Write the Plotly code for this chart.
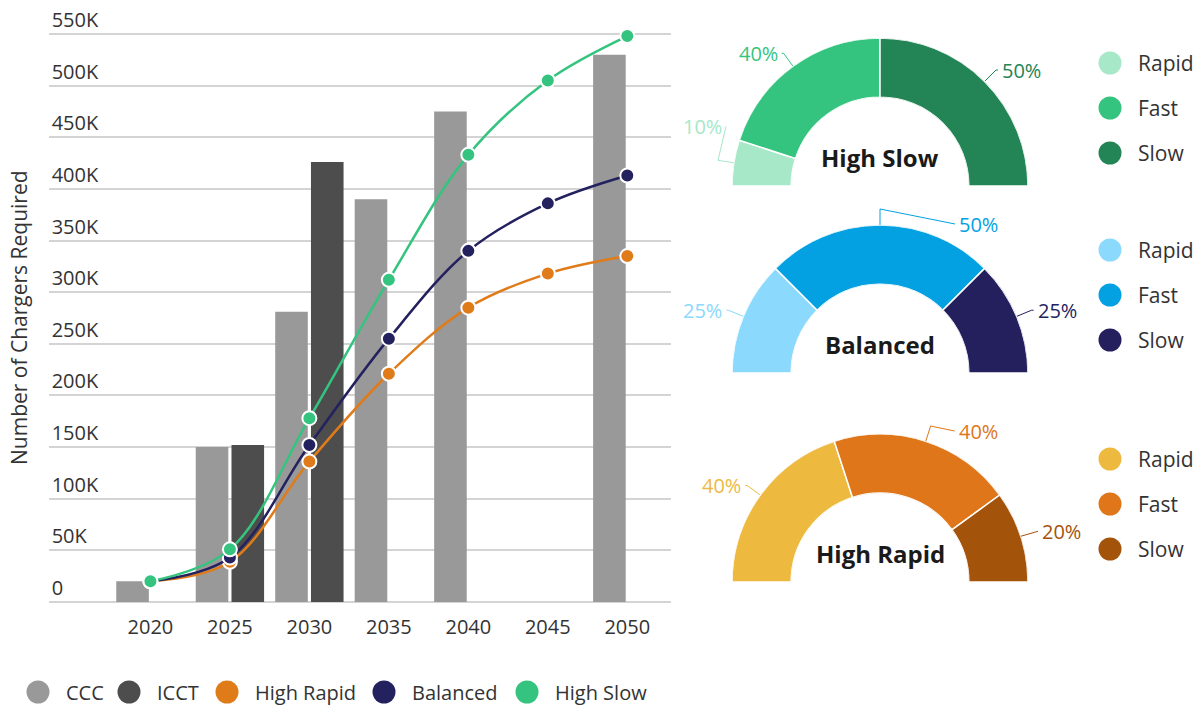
import math
import plotly.graph_objects as go

# ---------------- data ----------------
years = [2020, 2025, 2030, 2035, 2040, 2045, 2050]
ccc = [20000, 150000, 281000, 390000, 475000, None, 530000]
icct = [None, 152000, 426000, None, None, None, None]
high_rapid = [20000, 39000, 136000, 221000, 285000, 318000, 335000]
balanced = [20000, 43000, 152000, 255000, 340000, 386000, 413000]
high_slow = [20000, 51000, 178000, 312000, 433000, 505000, 548000]

y_tick_vals = [0, 50000, 100000, 150000, 200000, 250000, 300000,
               350000, 400000, 450000, 500000, 550000]
y_tick_text = ["0", "50K", "100K", "150K", "200K", "250K", "300K",
               "350K", "400K", "450K", "500K", "550K"]

charger_types = ["Rapid", "Fast", "Slow"]
mix_high_slow = [10, 40, 50]
mix_balanced = [25, 50, 25]
mix_high_rapid = [40, 40, 20]

# ---------------- styling ----------------
W, H = 1200, 709
FONT = "'Open Sans', Lato, sans-serif"
TEXT = "#333333"
GRID = "#d4d4d4"

C_CCC = "#999999"
C_ICCT = "#4d4d4d"
C_RAPID = "#e07b1a"
C_BAL = "#24215f"
C_SLOW = "#35c47f"

COLORS_HIGH_SLOW = ["#a6e8c8", "#35c47f", "#238455"]
COLORS_BALANCED = ["#8bd9fc", "#03a1e2", "#241f5d"]
COLORS_HIGH_RAPID = ["#edb93f", "#df7619", "#a4530b"]

# main chart frame (pixels)
PLOT_LEFT, PLOT_RIGHT = 48.7, 671.0
Y_ZERO_PX, Y_TOP_PX = 602.0, 34.0
X_RANGE = [2013.6, 2052.75]
PX_PER_UNIT = (Y_ZERO_PX - Y_TOP_PX) / y_tick_vals[-1]
Y_PAD = 4000
Y_RANGE = [-Y_PAD, y_tick_vals[-1] + Y_PAD]
y_bottom_px = Y_ZERO_PX + Y_PAD * PX_PER_UNIT
y_top_px = Y_TOP_PX - Y_PAD * PX_PER_UNIT

# donut geometry (pixels)
CX, R, HOLE = 880.0, 148.0, 0.6
L1, L2 = 16, 2
LABEL_NUDGE = {
    ("High Slow", "Rapid"): (10, -34),
    ("Balanced", "Fast"): (73, 15),
    ("High Rapid", "Fast"): (22, 5),
}
donuts = [
    ("High Slow", mix_high_slow, COLORS_HIGH_SLOW, 186.0),
    ("Balanced", mix_balanced, COLORS_BALANCED, 373.0),
    ("High Rapid", mix_high_rapid, COLORS_HIGH_RAPID, 582.0),
]
LEGEND_ROW_OFFSETS = [-123, -78, -33]
DONUT_LEG_X = 1110

fig = go.Figure()

# ---- bars ----
fig.add_trace(go.Bar(x=years, y=ccc, offset=-2.15, width=2.05,
                     marker=dict(color=C_CCC, line=dict(width=0)),
                     name="CCC", showlegend=False, xaxis="x", yaxis="y"))
fig.add_trace(go.Bar(x=years, y=icct, offset=0.1, width=2.05,
                     marker=dict(color=C_ICCT, line=dict(width=0)),
                     name="ICCT", showlegend=False, xaxis="x", yaxis="y"))

# ---- scenario lines ----
for name, vals, col in [("High Rapid", high_rapid, C_RAPID),
                        ("Balanced", balanced, C_BAL),
                        ("High Slow", high_slow, C_SLOW)]:
    fig.add_trace(go.Scatter(
        x=years, y=vals, mode="lines+markers", name=name, showlegend=False,
        line=dict(color=col, width=2.5, shape="spline", smoothing=1.0),
        marker=dict(size=14, color=col, line=dict(color="white", width=2)),
        cliponaxis=False, xaxis="x", yaxis="y"))

# ---- donuts (half-ring bar-polar) ----
annotations = []
polar_layouts = {}
for i, (title, mix, colors, cy) in enumerate(donuts):
    pname = "polar" if i == 0 else f"polar{i + 1}"
    total = sum(mix)
    starts = [sum(mix[:k]) for k in range(len(mix))]
    theta = [(s + v / 2) / total * 180 for s, v in zip(starts, mix)]
    widths = [v / total * 180 for v in mix]
    fig.add_trace(go.Barpolar(
        theta=theta, width=widths, r=[1] * len(mix), subplot=pname,
        marker=dict(color=colors, line=dict(color="white", width=1.5)),
        text=charger_types, hoverinfo="text", showlegend=False))
    polar_layouts[pname] = dict(
        domain=dict(x=[(CX - R) / W, (CX + R) / W],
                    y=[1 - cy / H, 1 - (cy - R) / H]),
        sector=[0, 180], hole=HOLE, bgcolor="rgba(0,0,0,0)", bargap=0,
        radialaxis=dict(visible=False, range=[0, 1]),
        angularaxis=dict(visible=False, rotation=180, direction="clockwise"))

    # percentage labels with leader lines
    for t, v, s, col in zip(charger_types, mix, starts, colors):
        phi = math.radians(180 - (s + v / 2) / total * 180)
        c, sn = math.cos(phi), math.sin(phi)
        ax_, ay = CX + R * c, cy - R * sn
        bx, by = CX + (R + L1) * c, cy - (R + L1) * sn
        side = 1 if c > -1e-6 else -1
        dx, dy = LABEL_NUDGE.get((title, t), (0, 0))
        ex, ey = bx + side * L2 + dx, by + dy
        fig.add_trace(go.Scatter(x=[ax_, bx, ex], y=[ay, by, ey], mode="lines",
                                 line=dict(color=col, width=1),
                                 hoverinfo="skip", showlegend=False,
                                 xaxis="x2", yaxis="y2"))
        annotations.append(dict(
            x=ex + side * 2, y=ey, xref="x2", yref="y2", text=f"{v}%",
            showarrow=False, xanchor="left" if side > 0 else "right",
            yanchor="middle", font=dict(family=FONT, size=20, color=col)))

    # centre title
    annotations.append(dict(
        x=CX, y=cy - 29, xref="x2", yref="y2", text=f"<b>{title}</b>",
        showarrow=False, xanchor="center", yanchor="middle",
        font=dict(family=FONT, size=24, color="#1a1a1a")))

    # side legend
    fig.add_trace(go.Scatter(
        x=[DONUT_LEG_X] * len(mix), y=[cy + o for o in LEGEND_ROW_OFFSETS],
        mode="markers", marker=dict(size=23, color=colors),
        hoverinfo="skip", showlegend=False, xaxis="x2", yaxis="y2"))
    for t, o in zip(charger_types, LEGEND_ROW_OFFSETS):
        annotations.append(dict(
            x=DONUT_LEG_X + 26, y=cy + o, xref="x2", yref="y2", text=t,
            showarrow=False, xanchor="left", yanchor="middle",
            font=dict(family=FONT, size=21, color=TEXT)))

# ---- bottom legend ----
legend_items = [("CCC", C_CCC), ("ICCT", C_ICCT), ("High Rapid", C_RAPID),
                ("Balanced", C_BAL), ("High Slow", C_SLOW)]
legend_x = [38, 129, 227, 384, 527]
LEG_Y = 692
fig.add_trace(go.Scatter(
    x=legend_x, y=[LEG_Y] * len(legend_x), mode="markers",
    marker=dict(size=23, color=[c for _, c in legend_items]),
    hoverinfo="skip", showlegend=False, xaxis="x2", yaxis="y2"))
for (lab, _), lx in zip(legend_items, legend_x):
    annotations.append(dict(
        x=lx + 26, y=LEG_Y, xref="x2", yref="y2", text=lab, showarrow=False,
        xanchor="left", yanchor="middle",
        font=dict(family=FONT, size=20, color=TEXT)))

# ---- y axis title ----
annotations.append(dict(
    x=19, y=(Y_ZERO_PX + Y_TOP_PX) / 2, xref="x2", yref="y2",
    text="Number of Chargers Required", textangle=-90, showarrow=False,
    xanchor="center", yanchor="middle",
    font=dict(family=FONT, size=21, color=TEXT)))

fig.update_layout(
    width=W, height=H,
    margin=dict(l=0, r=0, t=0, b=0, pad=0, autoexpand=False),
    title=None,
    paper_bgcolor="white", plot_bgcolor="rgba(0,0,0,0)",
    barmode="overlay", showlegend=False,
    font=dict(family=FONT, color=TEXT),
    xaxis=dict(domain=[PLOT_LEFT / W, PLOT_RIGHT / W], range=X_RANGE,
               tickvals=years, ticktext=[str(y) for y in years],
               showgrid=False, zeroline=False, showline=False, ticks="",
               tickfont=dict(family=FONT, size=20, color=TEXT),
               ticklabelstandoff=7, anchor="y", fixedrange=True,
               automargin=False),
    yaxis=dict(domain=[1 - y_bottom_px / H, 1 - y_top_px / H], range=Y_RANGE,
               tickvals=y_tick_vals, ticktext=y_tick_text,
               showgrid=True, gridcolor=GRID, gridwidth=1.5,
               zeroline=False, showline=False, ticks="",
               ticklabelposition="inside top", ticklabeloverflow="allow",
               tickfont=dict(family=FONT, size=20, color=TEXT),
               anchor="x", fixedrange=True, automargin=False),
    xaxis2=dict(domain=[0, 1], range=[0, W], visible=False, anchor="y2",
                fixedrange=True, automargin=False),
    yaxis2=dict(domain=[0, 1], range=[H, 0], visible=False, anchor="x2",
                fixedrange=True, automargin=False),
    annotations=annotations,
    **polar_layouts,
)

fig.write_html("out.html")
